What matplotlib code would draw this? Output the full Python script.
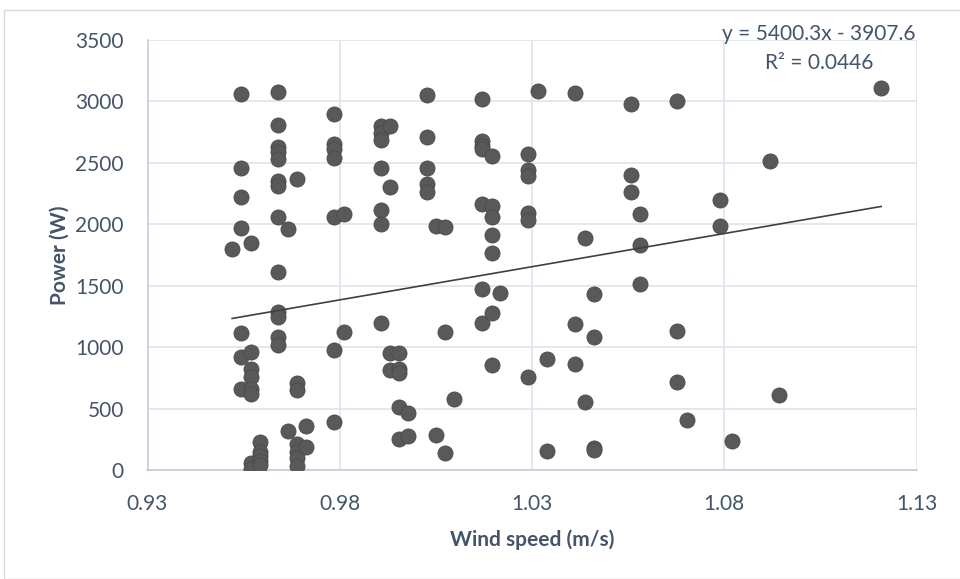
import numpy as np
import matplotlib.pyplot as plt
from matplotlib.patches import Rectangle

# wind speed columns and the power readings found at each one
speed_cols = [0.952, 0.9544, 0.9568, 0.9592, 0.964, 0.9665, 0.9689, 0.9713,
              0.9785, 0.981, 0.9906, 0.993, 0.9954, 0.9977, 1.0026, 1.005,
              1.0075, 1.0098, 1.0171, 1.0195, 1.0218, 1.029, 1.0316, 1.034,
              1.0412, 1.0438, 1.0461, 1.0557, 1.0581, 1.0676, 1.0702, 1.079,
              1.0821, 1.0918, 1.0943, 1.1208]
power_cols = [
    [1800],
    [3060, 2460, 2220, 1970, 1115, 920, 660],
    [1845, 960, 820, 755, 660, 615, 60, 10],
    [230, 150, 110, 70, 40],
    [3080, 2810, 2630, 2590, 2530, 2350, 2310, 2060, 1610, 1290, 1245, 1080, 1020],
    [1960, 320],
    [2370, 710, 650, 210, 150, 100, 30],
    [360, 190],
    [2900, 2650, 2610, 2540, 2060, 980, 390],
    [2085, 1120],
    [2800, 2745, 2685, 2460, 2115, 2000, 1195],
    [2800, 2300, 950, 815],
    [950, 825, 790, 510, 255],
    [460, 275],
    [3050, 2710, 2460, 2330, 2260],
    [1990, 285],
    [1975, 1120, 135],
    [575],
    [3020, 2680, 2640, 2610, 2165, 1470, 1200],
    [2555, 2150, 2060, 1910, 1765, 1280, 855],
    [1440],
    [2570, 2440, 2390, 2090, 2035, 760],
    [3085],
    [900, 155],
    [3065, 1185, 865],
    [1890, 550],
    [1430, 1085, 180, 165],
    [2980, 2405, 2260],
    [2085, 1835, 1515],
    [3005, 1135, 720],
    [410],
    [2195, 1985],
    [235],
    [2515],
    [610],
    [3110],
]

# trendline as printed on the chart
slope = 5400.3
intercept = -3907.6
r_squared = 0.0446

x_ticks = [0.93, 0.98, 1.03, 1.08, 1.13]
y_ticks = [0, 500, 1000, 1500, 2000, 2500, 3000, 3500]

speed = np.concatenate([[s] * len(p) for s, p in zip(speed_cols, power_cols)])
power = np.concatenate(power_cols)

text_col = "#44546A"
grid_col = "#DFE3EB"
plt.rcParams["font.family"] = ["Lato", "DejaVu Sans"]

fig = plt.figure(figsize=(9.6, 5.79), dpi=100)
fig.patches.append(Rectangle((4 / 960, 0), 1, 1 - 10 / 579, transform=fig.transFigure,
                             fill=False, edgecolor="#D9D9D9", linewidth=1))
ax = fig.add_axes([147.5 / 960, 1 - 470 / 579, 769 / 960, 430 / 579])

ax.scatter(speed, power, s=118, color="#595959", edgecolors="#4A4A4A",
           linewidths=0.6, zorder=3)

xl = np.array([speed.min(), speed.max()])
ax.plot(xl, slope * xl + intercept, color="#404040", linewidth=1.2, zorder=4)

ax.set_xlim(0.93, 1.13)
ax.set_ylim(0, 3500)
ax.set_xticks(x_ticks)
ax.set_yticks(y_ticks)
ax.set_xticklabels([f"{t:.2f}" for t in x_ticks])
ax.tick_params(length=0, labelsize=15, labelcolor=text_col, pad=17)
ax.grid(True, color=grid_col, linewidth=1.2, zorder=0)
for side in ["top", "right"]:
    ax.spines[side].set_visible(False)
for side in ["left", "bottom"]:
    ax.spines[side].set_color("#C3CBDB")
    ax.spines[side].set_linewidth(1.2)

fig.text(532 / 960, 1 - 540 / 579, "Wind speed (m/s)", ha="center", va="center",
         fontsize=15, fontweight="bold", color=text_col)
fig.text(60 / 960, 1 - 255 / 579, "Power (W)", ha="center", va="center",
         rotation=90, fontsize=15, fontweight="bold", color=text_col)

fig.text(819 / 960, 1 - 34 / 579, f"y = {slope}x - {abs(intercept)}",
         ha="center", va="center", fontsize=15, color=text_col)
fig.text(819 / 960, 1 - 63 / 579, f"R² = {r_squared}",
         ha="center", va="center", fontsize=15, color=text_col)

fig.savefig("out.png", dpi=100)
